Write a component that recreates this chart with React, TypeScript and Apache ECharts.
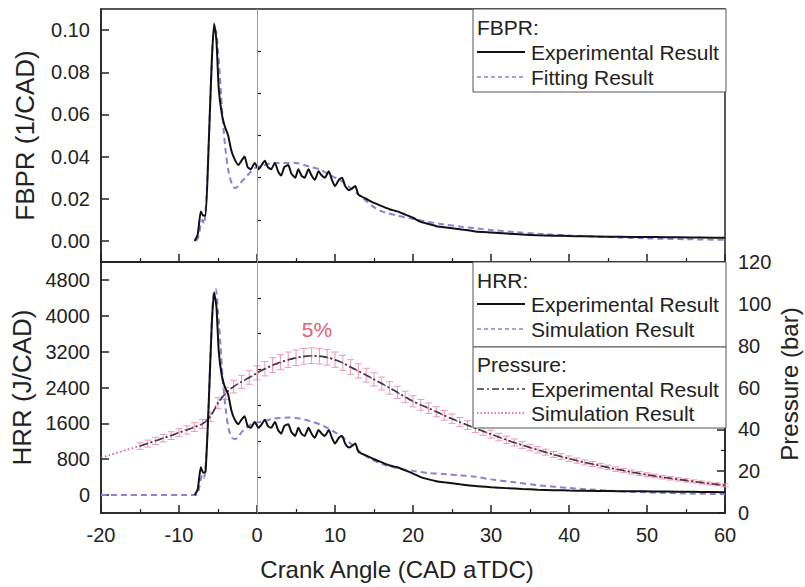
import React, { useEffect, useRef } from 'react';
import * as echarts from 'echarts';

const FONT = '"Liberation Sans", Arial, Helvetica, sans-serif';
const TXT = '#222';

// ---- Axis ticks ----
const fbprTicks = [0, 0.02, 0.04, 0.06, 0.08, 0.1];
const fbprMinorTicks = [0.01, 0.03, 0.05, 0.07, 0.09];
const hrrTicks = [0, 800, 1600, 2400, 3200, 4000, 4800];
const hrrMinorTicks = [400, 1200, 2000, 2800, 3600, 4400];

// ---- Experimental FBPR / HRR ----
const expAngles = [
  -8, -7.6, -7.2, -6.9, -6.6, -6.2, -5.8, -5.5, -5.2, -4.9,
  -4.5, -4.1, -3.7, -3.3, -2.9, -2.4, -2.0, -1.6, -1.2, -0.8,
  -0.3, 0.2, 0.6, 1.0, 1.4, 1.8, 2.3, 2.7, 3.1, 3.5,
  4.0, 4.4, 4.9, 5.3, 5.7, 6.1, 6.6, 7.0, 7.4, 7.9,
  8.3, 8.7, 9.2, 9.6, 10.0, 10.5, 10.9, 11.3, 11.8, 12.2,
  12.6, 13.0, 14, 15, 16, 17, 18, 19, 20, 21,
  22, 23, 24, 26, 28, 30, 32, 34, 36, 38,
  40, 42, 45, 48, 51, 54, 57, 60,
];
const fbprExp = [
  0, 0.003, 0.014, 0.012, 0.012, 0.045, 0.085, 0.103, 0.095, 0.072,
  0.060, 0.054, 0.050, 0.043, 0.039, 0.036, 0.038, 0.040, 0.035, 0.034,
  0.037, 0.034, 0.036, 0.038, 0.035, 0.034, 0.037, 0.033, 0.031, 0.035,
  0.036, 0.032, 0.030, 0.034, 0.031, 0.030, 0.034, 0.031, 0.029, 0.033,
  0.031, 0.030, 0.033, 0.029, 0.026, 0.029, 0.030, 0.026, 0.024, 0.025,
  0.026, 0.022, 0.020, 0.018, 0.0165, 0.015, 0.014, 0.0125, 0.011, 0.009,
  0.008, 0.007, 0.0065, 0.0055, 0.0045, 0.004, 0.0035, 0.003, 0.0027, 0.0025,
  0.0023, 0.0022, 0.002, 0.0019, 0.0018, 0.0017, 0.0016, 0.0015,
];
const hrrExp = [
  0, 130, 620, 500, 520, 2000, 3800, 4520, 4200, 3200,
  2650, 2400, 2250, 1900, 1700, 1580, 1680, 1760, 1540, 1500,
  1630, 1500, 1580, 1680, 1540, 1500, 1630, 1450, 1370, 1540,
  1580, 1410, 1320, 1500, 1370, 1320, 1500, 1370, 1280, 1450,
  1370, 1320, 1450, 1280, 1150, 1280, 1320, 1150, 1060, 1100,
  1150, 970, 880, 800, 730, 660, 620, 550, 480, 400,
  350, 310, 285, 240, 200, 175, 155, 135, 120, 110,
  100, 95, 90, 85, 80, 75, 70, 65,
];

// ---- Fitting FBPR ----
const fitAngles = [
  -7.8, -7.5, -7.2, -7.0, -6.8, -6.5, -6.2, -5.9, -5.6, -5.3,
  -5.0, -4.7, -4.4, -4.0, -3.6, -3.2, -2.8, -2.4, -2.0, -1.5,
  -1.0, -0.5, 0, 1, 2, 3, 4, 5, 6, 7,
  8, 9, 10, 11, 12, 13, 14, 15, 16, 18,
  20, 22, 24, 26, 28, 30, 33, 36, 40, 45,
  50, 55, 60,
];
const fbprFit = [
  0, 0.002, 0.008, 0.010, 0.008, 0.020, 0.045, 0.075, 0.098, 0.100,
  0.090, 0.075, 0.058, 0.042, 0.032, 0.027, 0.025, 0.026, 0.028, 0.030,
  0.032, 0.034, 0.035, 0.036, 0.037, 0.037, 0.037, 0.037, 0.036, 0.035,
  0.034, 0.032, 0.030, 0.028, 0.025, 0.022, 0.019, 0.016, 0.014, 0.012,
  0.0105, 0.009, 0.0078, 0.0068, 0.006, 0.0052, 0.0042, 0.0034, 0.0026, 0.0018,
  0.0012, 0.0008, 0.0005,
];

// ---- Simulated HRR ----
const simAngles = [
  -20, -7.8, -7.5, -7.2, -7.0, -6.8, -6.5, -6.2, -5.9, -5.6, -5.3,
  -5.0, -4.7, -4.4, -4.0, -3.6, -3.2, -2.8, -2.4, -2.0, -1.5,
  -1.0, -0.5, 0, 1, 2, 3, 4, 5, 6, 7,
  8, 9, 10, 11, 12, 13, 14, 15, 16, 18,
  20, 22, 24, 26, 28, 30, 33, 36, 40, 45,
  50, 55, 60,
];
const hrrSim = [
  0, 0, 100, 350, 450, 380, 900, 2000, 3400, 4450, 4600,
  4100, 3400, 2600, 1900, 1450, 1280, 1250, 1300, 1400, 1480,
  1550, 1600, 1620, 1650, 1700, 1720, 1730, 1720, 1690, 1640,
  1580, 1500, 1400, 1290, 1150, 1000, 870, 770, 690, 600,
  540, 490, 470, 440, 410, 350, 285, 220, 160, 100,
  60, 35, 20,
];

// ---- Pressure ----
const pressureSimAngles = [
  -20, -19, -18, -17, -16, -15, -14, -13, -12, -11,
  -10, -9, -8, -7, -6, -5, -4, -3, -2, -1,
  0, 1, 2, 3, 4, 5, 6, 7, 8, 9,
  10, 11, 12, 13, 14, 15, 16, 17, 18, 19,
  20, 21, 22, 23, 24, 25, 26, 27, 28, 29,
  30, 31, 32, 33, 34, 35, 36, 37, 38, 39,
  40, 41, 42, 43, 44, 45, 46, 47, 48, 49,
  50, 51, 52, 53, 54, 55, 56, 57, 58, 59, 60,
];
const pressureSim = [
  26.5, 27.6, 28.7, 29.9, 31.0, 32.2, 33.4, 34.6, 35.9, 37.2,
  38.5, 39.9, 41.3, 42.8, 46.5, 53.0, 57.5, 60.5, 62.6, 64.6,
  66.8, 68.7, 70.4, 71.8, 73.0, 74.0, 74.7, 75.0, 74.9, 74.3,
  73.2, 71.6, 69.5, 67.7, 65.8, 63.8, 61.8, 59.7, 57.6, 55.3,
  53.2, 51.6, 50.0, 48.3, 46.6, 45.0, 43.4, 41.9, 40.4, 39.0,
  37.6, 36.2, 34.9, 33.6, 32.4, 31.2, 30.1, 29.0, 27.9, 26.9,
  25.9, 25.0, 24.1, 23.3, 22.5, 21.7, 20.9, 20.2, 19.5, 18.8,
  18.2, 17.6, 17.0, 16.5, 16.0, 15.5, 15.0, 14.5, 14.0, 13.6, 13.1,
];
const pressureExpAngles = [
  -15, -14, -13, -12, -11, -10, -9, -8, -7, -6,
  -5, -4, -3, -2, -1, 0, 1, 2, 3, 4,
  5, 6, 7, 8, 9, 10, 11, 12, 13, 14,
  15, 16, 17, 18, 19, 20, 21, 22, 23, 24,
  25, 26, 27, 28, 29, 30, 31, 32, 33, 34,
  35, 36, 37, 38, 39, 40, 41, 42, 43, 44,
  45, 46, 47, 48, 49, 50, 51, 52, 53, 54,
  55, 56, 57, 58, 59, 60,
];
const pressureExp = [
  32.0, 33.2, 34.5, 35.8, 37.0, 38.4, 39.7, 41.1, 42.6, 46.0,
  52.5, 57.2, 60.4, 62.7, 64.8, 67.0, 69.0, 70.7, 72.1, 73.3,
  74.2, 74.9, 75.2, 75.0, 74.4, 73.3, 71.8, 69.8, 67.9, 65.9,
  63.9, 61.9, 59.8, 57.7, 55.5, 53.4, 51.7, 50.1, 48.4, 46.7,
  45.1, 43.5, 42.0, 40.5, 39.1, 37.7, 36.3, 35.0, 33.7, 32.5,
  31.3, 30.2, 29.1, 28.0, 27.0, 26.0, 25.1, 24.2, 23.4, 22.6,
  21.8, 21.0, 20.3, 19.6, 18.9, 18.3, 17.7, 17.1, 16.6, 16.1,
  15.6, 15.1, 14.6, 14.1, 13.7, 13.2,
];
const errorFraction = 0.05;

const pair = (xs: number[], ys: number[]) => xs.map((x, i) => [x, ys[i]]);

const C_EXP = '#111111';
const C_SIM = '#8f7fd6';
const C_PEXP = '#3b3550';
const C_PSIM = '#d9506a';
const C_ERR = '#ee9aaa';

const axisLineStyle = { color: TXT, width: 1.5 };
const labelStyle = { fontSize: 20, color: TXT, fontFamily: FONT };

function xAxisCfg(gridIndex: number, showLabels: boolean): any {
  return {
    type: 'value',
    gridIndex,
    min: -20,
    max: 60,
    interval: 10,
    axisLine: { show: true, onZero: false, lineStyle: axisLineStyle },
    axisTick: { show: true, inside: true, length: 8, lineStyle: { color: TXT, width: 1.5 } },
    minorTick: { show: true, splitNumber: 2, length: 4, lineStyle: { color: TXT, width: 1.2 } },
    splitLine: { show: false },
    axisLabel: { show: showLabels, margin: 12, ...labelStyle },
    ...(showLabels
      ? {
          name: 'Crank Angle (CAD aTDC)',
          nameLocation: 'middle',
          nameGap: 44,
          nameTextStyle: { fontSize: 24, color: TXT, fontFamily: FONT, padding: [0, 32, 0, 0] },
        }
      : {}),
  };
}

function buildOption(): any {
  const legendLine = (y: number, color: string, dash: any, width = 2) => ({
    type: 'line',
    z: 101,
    shape: { x1: 477, y1: y, x2: 525, y2: y },
    style: { stroke: color, lineWidth: width, lineDash: dash },
  });
  const legendText = (x: number, y: number, text: string) => ({
    type: 'text',
    z: 101,
    x,
    y,
    style: { text, fontSize: 21, fontFamily: FONT, fill: TXT, verticalAlign: 'middle', align: 'left' },
  });
  const legendBox = (y: number, h: number) => ({
    type: 'rect',
    z: 100,
    shape: { x: 473, y, width: 253, height: h },
    style: { fill: '#fff', stroke: '#555', lineWidth: 1 },
  });

  const zeroLine = {
    silent: true,
    symbol: 'none',
    label: { show: false },
    lineStyle: { color: '#999', width: 1, type: 'solid' },
    data: [{ xAxis: 0 }],
  };

  const gridCommon = {
    left: 101,
    width: 624,
    show: true,
    borderColor: TXT,
    borderWidth: 1.5,
    backgroundColor: 'transparent',
    containLabel: false,
    outerBoundsMode: 'none',
  };

  return {
    animation: false,
    backgroundColor: '#fff',
    textStyle: { fontFamily: FONT },
    grid: [
      { ...gridCommon, top: 9, height: 253 },
      { ...gridCommon, top: 262, height: 251 },
    ],
    xAxis: [xAxisCfg(0, false), xAxisCfg(1, true)],
    yAxis: [
      {
        type: 'value',
        gridIndex: 0,
        position: 'left',
        min: -0.01,
        max: 0.11,
        interval: 0.01,
        axisLine: { show: true, onZero: false, lineStyle: axisLineStyle },
        axisTick: { show: true, inside: true, length: 8, customValues: fbprTicks, lineStyle: { color: TXT, width: 1.5 } },
        axisLabel: {
          customValues: fbprTicks,
          margin: 11,
          ...labelStyle,
          formatter: (v: number) => {
            const k = Math.round(v * 100);
            return k >= 0 && k <= 10 && k % 2 === 0 ? v.toFixed(2) : '';
          },
        },
        splitLine: { show: false },
        name: 'FBPR (1/CAD)',
        nameLocation: 'middle',
        nameRotate: 90,
        nameGap: 63,
        nameTextStyle: { fontSize: 26, color: TXT, fontFamily: FONT },
      },
      {
        type: 'value',
        gridIndex: 0,
        position: 'left',
        min: -0.01,
        max: 0.11,
        interval: 0.01,
        axisLine: { show: false },
        axisTick: { show: true, inside: true, length: 4, customValues: fbprMinorTicks, lineStyle: { color: TXT, width: 1.2 } },
        axisLabel: { show: false },
        splitLine: { show: false },
      },
      {
        type: 'value',
        gridIndex: 1,
        position: 'left',
        min: -400,
        max: 5200,
        interval: 400,
        axisLine: { show: true, onZero: false, lineStyle: axisLineStyle },
        axisTick: { show: true, inside: true, length: 8, customValues: hrrTicks, lineStyle: { color: TXT, width: 1.5 } },
        axisLabel: {
          customValues: hrrTicks,
          margin: 11,
          ...labelStyle,
          formatter: (v: number) => (v >= 0 && v <= 4800 && v % 800 === 0 ? String(v) : ''),
        },
        splitLine: { show: false },
        name: 'HRR (J/CAD)',
        nameLocation: 'middle',
        nameRotate: 90,
        nameGap: 63,
        nameTextStyle: { fontSize: 26, color: TXT, fontFamily: FONT },
      },
      {
        type: 'value',
        gridIndex: 1,
        position: 'left',
        min: -400,
        max: 5200,
        interval: 400,
        axisLine: { show: false },
        axisTick: { show: true, inside: true, length: 4, customValues: hrrMinorTicks, lineStyle: { color: TXT, width: 1.2 } },
        axisLabel: { show: false },
        splitLine: { show: false },
      },
      {
        type: 'value',
        gridIndex: 1,
        position: 'right',
        min: 0,
        max: 120,
        interval: 20,
        axisLine: { show: true, onZero: false, lineStyle: axisLineStyle },
        axisTick: { show: true, inside: true, length: 8, lineStyle: { color: TXT, width: 1.5 } },
        minorTick: { show: true, splitNumber: 2, length: 4, lineStyle: { color: TXT, width: 1.2 } },
        axisLabel: { margin: 13, ...labelStyle },
        splitLine: { show: false },
      },
    ],
    series: [
      {
        name: 'FBPR Fitting Result',
        type: 'line',
        xAxisIndex: 0,
        yAxisIndex: 0,
        data: pair(fitAngles, fbprFit),
        showSymbol: false,
        smooth: 0.3,
        lineStyle: { color: C_SIM, width: 2, type: [6, 4] },
        z: 3,
        markLine: zeroLine,
      },
      {
        name: 'FBPR Experimental Result',
        type: 'line',
        xAxisIndex: 0,
        yAxisIndex: 0,
        data: pair(expAngles, fbprExp),
        showSymbol: false,
        smooth: 0.2,
        lineStyle: { color: C_EXP, width: 2 },
        z: 4,
      },
      {
        name: 'Pressure error',
        type: 'custom',
        xAxisIndex: 1,
        yAxisIndex: 4,
        data: pressureExpAngles.map((x, i) => [x, pressureExp[i] * (1 - errorFraction), pressureExp[i] * (1 + errorFraction)]),
        encode: { x: 0, y: [1, 2] },
        z: 2,
        renderItem: (params: any, api: any) => {
          const x = api.value(0);
          const lo = api.coord([x, api.value(1)]);
          const hi = api.coord([x, api.value(2)]);
          const hw = 3.5;
          const st = { stroke: C_ERR, lineWidth: 1 };
          return {
            type: 'group',
            children: [
              { type: 'line', shape: { x1: lo[0], y1: lo[1], x2: hi[0], y2: hi[1] }, style: st },
              { type: 'line', shape: { x1: lo[0] - hw, y1: lo[1], x2: lo[0] + hw, y2: lo[1] }, style: st },
              { type: 'line', shape: { x1: hi[0] - hw, y1: hi[1], x2: hi[0] + hw, y2: hi[1] }, style: st },
            ],
          };
        },
      },
      {
        name: 'Pressure Simulation Result',
        type: 'line',
        xAxisIndex: 1,
        yAxisIndex: 4,
        data: pair(pressureSimAngles, pressureSim),
        showSymbol: false,
        smooth: 0.3,
        lineStyle: { color: C_PSIM, width: 1.6, type: [1.5, 2.5] },
        z: 3,
      },
      {
        name: 'Pressure Experimental Result',
        type: 'line',
        xAxisIndex: 1,
        yAxisIndex: 4,
        data: pair(pressureExpAngles, pressureExp),
        showSymbol: false,
        smooth: 0.3,
        lineStyle: { color: C_PEXP, width: 1.6, type: [8, 3, 2, 3] },
        z: 3,
      },
      {
        name: 'HRR Simulation Result',
        type: 'line',
        xAxisIndex: 1,
        yAxisIndex: 2,
        data: pair(simAngles, hrrSim),
        showSymbol: false,
        smooth: 0.3,
        lineStyle: { color: C_SIM, width: 2, type: [6, 4] },
        z: 4,
        markLine: zeroLine,
      },
      {
        name: 'HRR Experimental Result',
        type: 'line',
        xAxisIndex: 1,
        yAxisIndex: 2,
        data: pair(expAngles, hrrExp),
        showSymbol: false,
        smooth: 0.2,
        lineStyle: { color: C_EXP, width: 2 },
        z: 5,
      },
    ],
    graphic: [
      legendBox(9, 83),
      legendText(477, 27, 'FBPR:'),
      legendLine(52, C_EXP, null),
      legendText(531, 52, 'Experimental Result'),
      legendLine(77, C_SIM, [4, 3], 1.6),
      legendText(531, 77, 'Fitting Result'),

      legendBox(262, 85),
      legendText(477, 280, 'HRR:'),
      legendLine(304, C_EXP, null),
      legendText(531, 304, 'Experimental Result'),
      legendLine(329, C_SIM, [4, 3], 1.6),
      legendText(531, 329, 'Simulation Result'),

      legendBox(347, 81),
      legendText(477, 364, 'Pressure:'),
      legendLine(389, C_PEXP, [7, 3, 2, 3], 1.6),
      legendText(531, 389, 'Experimental Result'),
      legendLine(413, C_PSIM, [1.5, 2], 1.3),
      legendText(531, 413, 'Simulation Result'),

      {
        type: 'text',
        z: 101,
        x: 317,
        y: 329,
        style: { text: '5%', fontSize: 21, fontFamily: FONT, fill: '#e2606e', align: 'center', verticalAlign: 'middle' },
      },
      {
        type: 'text',
        z: 101,
        x: 789,
        y: 384,
        rotation: Math.PI / 2,
        style: { text: 'Pressure (bar)', fontSize: 24, fontFamily: FONT, fill: TXT, align: 'center', verticalAlign: 'middle' },
      },
    ],
  };
}

export default function App() {
  const ref = useRef<HTMLDivElement>(null);
  useEffect(() => {
    if (!ref.current) return;
    const chart = echarts.init(ref.current, null, { renderer: 'svg' });
    chart.setOption(buildOption());
    return () => chart.dispose();
  }, []);
  return <div ref={ref} style={{ position: 'fixed', left: 0, top: 0, width: 805, height: 587, background: '#fff' }} />;
}
